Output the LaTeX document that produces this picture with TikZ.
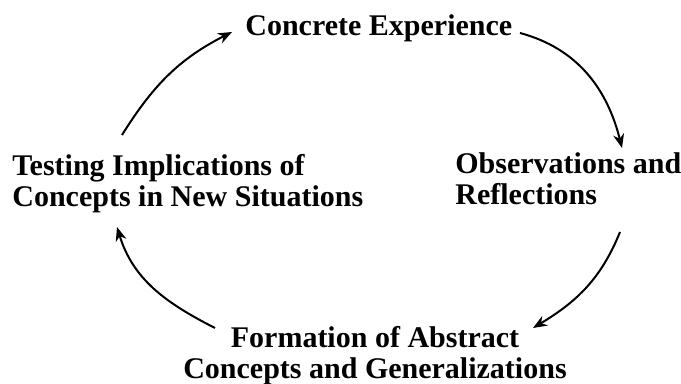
\documentclass[tikz,border=0pt]{standalone}
\usepackage{fontspec}
\setmainfont{Liberation Serif}
\usetikzlibrary{arrows.meta}
\begin{document}
\begin{tikzpicture}[x = 0.5pt, y = -0.5pt,
                    stage/.style = {inner sep = 0pt, font = \fontsize{15}{15.5}\selectfont\bfseries},
                    cycle arrow/.style = {line width = 1pt, -{Stealth[length = 7pt, width = 5.5pt]}}]
                    \useasboundingbox (0, 0) rectangle (681, 384);

                    \node[stage, anchor = north west] (concrete) at (245, 14) {Concrete Experience};
                    \node[stage, anchor = north west, align = left] (observe) at (455, 152) {Observations and\\Reflections};
                    \node[stage, anchor = north, align = center] (abstract) at (375, 326) {Formation of Abstract\\Concepts and Generalizations};
                    \node[stage, anchor = north west, align = left] (testing) at (12, 154) {Testing Implications of\\Concepts in New Situations};

                    \coordinate (t1) at (122, 135);
                    \coordinate (c1) at (232, 32);
                    \coordinate (c2) at (520, 33);
                    \coordinate (o1) at (622, 148);
                    \coordinate (o2) at (620, 232);
                    \coordinate (a1) at (533, 328);
                    \coordinate (a2) at (215, 328);
                    \coordinate (t2) at (117, 227);

                    \draw[cycle arrow] (t1) to[out = 58, in = 207] (c1);
                    \draw[cycle arrow] (c2) to[out = -15, in = 104] (o1);
                    \draw[cycle arrow] (o2) to[out = -112, in = 31] (a1);
                    \draw[cycle arrow] (a2) to[out = 153, in = -73] (t2);
                \end{tikzpicture}
\end{document}
